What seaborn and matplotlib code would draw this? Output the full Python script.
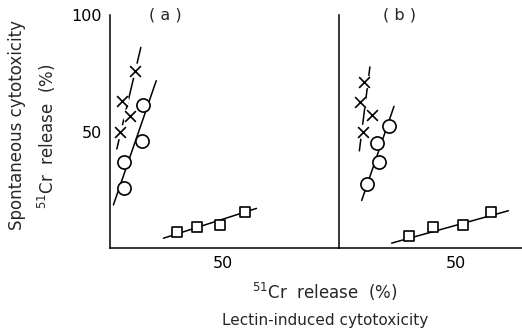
import numpy as np
import pandas as pd
import matplotlib
matplotlib.use("Agg")
import matplotlib.pyplot as plt
import seaborn as sns

sns.set_style("white")
plt.rcParams['font.family'] = ['DejaVu Sans']

# ---- data ----
# panel (a)
a_cross_x = [4.4, 5.2, 8.8, 11.1]
a_cross_y = [49.8, 63.2, 56.8, 76.1]
a_cross_line_x = [3.0, 13.6]
a_cross_line_y = [42.5, 86.1]

a_circ_x = [6.3, 6.3, 14.0, 14.7]
a_circ_y = [25.6, 37.0, 46.1, 61.4]
a_circ_line_x = [1.5, 20.4]
a_circ_line_y = [18.5, 71.8]

a_sq_x = [29.5, 38.3, 48.4, 59.4]
a_sq_y = [6.7, 9.1, 10.0, 15.3]
a_sq_line_x = [23.6, 64.6]
a_sq_line_y = [4.2, 17.0]

# panel (b)
b_cross_x = [10.7, 9.0, 14.2, 10.4]
b_cross_y = [71.4, 62.6, 57.1, 49.8]
b_cross_line_x = [8.7, 13.2]
b_cross_line_y = [41.7, 77.7]

b_circ_x = [12.1, 17.2, 16.1, 21.5]
b_circ_y = [27.3, 36.9, 45.1, 52.4]
b_circ_line_x = [9.7, 23.5]
b_circ_line_y = [20.4, 60.8]

b_sq_x = [30.0, 40.3, 52.9, 65.0]
b_sq_y = [5.0, 8.9, 9.8, 15.3]
b_sq_line_x = [22.5, 72.4]
b_sq_line_y = [2.1, 16.0]

xticks = [50]
yticks = [50, 100]
ytick_labels = ["50", "100"]

fig = plt.figure(figsize=(5.22, 3.28), dpi=100)
W, H = 522, 328
def rect(l, r, b, t):
    return [l / W, 1 - b / H, (r - l) / W, (b - t) / H]

axA = fig.add_axes(rect(110, 339, 248, 15))
axB = fig.add_axes(rect(339, 522, 248, 15))

lw = 1.1

def draw(ax, cx, cy, clx, cly, ox, oy, olx, oly, sx, sy, slx, sly):
    for lx, ly in [(clx, cly), (olx, oly), (slx, sly)]:
        sns.lineplot(x=lx, y=ly, ax=ax, color="black", lw=lw, sort=False,
                     estimator=None, zorder=1)
    # white halos for the crosses
    ax.scatter(cx, cy, s=110, marker="o", color="white", edgecolors="none", zorder=2)
    sns.scatterplot(x=cx, y=cy, ax=ax, marker="x", s=60, color="black",
                    linewidth=1.2, zorder=3)
    sns.scatterplot(x=ox, y=oy, ax=ax, marker="o", s=90, facecolor="white",
                    edgecolor="black", linewidth=1.2, zorder=3)
    sns.scatterplot(x=sx, y=sy, ax=ax, marker="s", s=60, facecolor="white",
                    edgecolor="black", linewidth=1.2, zorder=3)

draw(axA, a_cross_x, a_cross_y, a_cross_line_x, a_cross_line_y,
     a_circ_x, a_circ_y, a_circ_line_x, a_circ_line_y,
     a_sq_x, a_sq_y, a_sq_line_x, a_sq_line_y)
draw(axB, b_cross_x, b_cross_y, b_cross_line_x, b_cross_line_y,
     b_circ_x, b_circ_y, b_circ_line_x, b_circ_line_y,
     b_sq_x, b_sq_y, b_sq_line_x, b_sq_line_y)

axA.set_xlim(0, 101)
axB.set_xlim(0, 78.2)
for ax in (axA, axB):
    ax.set_ylim(0, 100)
    ax.set_xticks(xticks)
    ax.set_xticklabels(["50"], fontsize=11.5)
    ax.set_yticks(yticks)
    for s in ("top", "right"):
        ax.spines[s].set_visible(False)
    for s in ("left", "bottom"):
        ax.spines[s].set_linewidth(1.1)
        ax.spines[s].set_color("black")
    ax.tick_params(direction="in", length=9, width=1.1, colors="black",
                   labelsize=11.5, pad=6)
    ax.patch.set_alpha(0)

axA.set_yticklabels(ytick_labels, fontsize=11.5)
axB.set_yticklabels([])

axA.text(0.24, 1.0, "( a )", transform=axA.transAxes, ha="center", va="center", fontsize=11.5)
axB.text(0.33, 1.0, "( b )", transform=axB.transAxes, ha="center", va="center", fontsize=11.5)

fig.text(17 / W, 1 - 125 / H, "Spontaneous cytotoxicity", rotation=90,
         ha="center", va="center", fontsize=12)
fig.text(47 / W, 1 - 136 / H, r"$^{51}$Cr  release  (%)", rotation=90,
         ha="center", va="center", fontsize=12)
fig.text(325 / W, 1 - 292 / H, r"$^{51}$Cr  release  (%)",
         ha="center", va="center", fontsize=12)
fig.text(325 / W, 1 - 320 / H, "Lectin-induced cytotoxicity",
         ha="center", va="center", fontsize=11)

fig.savefig("out.png", dpi=100)
